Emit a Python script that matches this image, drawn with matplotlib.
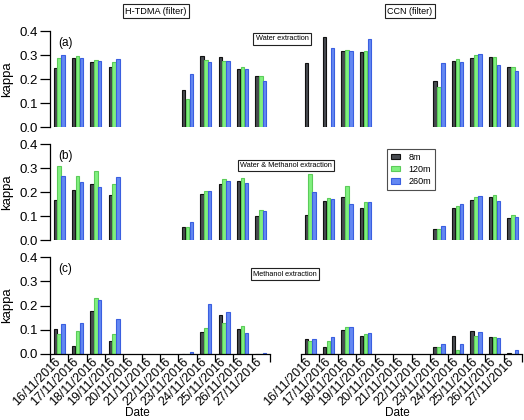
import numpy as np
import matplotlib
matplotlib.use("Agg")
import matplotlib.pyplot as plt
import matplotlib.transforms as mtransforms
from matplotlib.patches import Patch

plt.rcParams['font.family'] = ['Liberation Sans', 'DejaVu Sans']

nan = np.nan
dates = ["16/11/2016", "17/11/2016", "18/11/2016", "19/11/2016", "20/11/2016",
         "21/11/2016", "22/11/2016", "23/11/2016", "24/11/2016", "25/11/2016",
         "26/11/2016", "27/11/2016"]
heights = ["8m", "120m", "260m"]

# Panel (a) Water extraction
htdma_water_8 = [0.244, 0.286, 0.271, 0.251, nan, nan, nan, 0.156, 0.294, 0.292, 0.242, 0.211]
htdma_water_120 = [0.288, 0.297, 0.279, 0.271, nan, nan, nan, 0.117, 0.279, 0.274, 0.250, 0.212]
htdma_water_260 = [0.301, 0.288, 0.274, 0.282, nan, nan, nan, 0.219, 0.271, 0.275, 0.240, 0.190]
ccn_water_8 = [0.267, 0.375, 0.315, 0.313, nan, nan, nan, 0.193, 0.274, 0.289, 0.290, 0.249]
ccn_water_120 = [nan, nan, 0.321, 0.315, nan, nan, nan, 0.165, 0.282, 0.299, 0.292, 0.249]
ccn_water_260 = [nan, 0.328, 0.317, 0.365, nan, nan, nan, 0.267, 0.269, 0.304, 0.257, 0.235]

# Panel (b) Water & Methanol extraction
htdma_wm_8 = [0.168, 0.210, 0.235, 0.190, nan, nan, nan, 0.057, 0.193, 0.235, 0.246, 0.101]
htdma_wm_120 = [0.310, 0.268, 0.290, 0.235, nan, nan, nan, 0.054, 0.206, 0.254, 0.258, 0.126]
htdma_wm_260 = [0.268, 0.242, 0.222, 0.264, nan, nan, nan, 0.076, 0.204, 0.246, 0.239, 0.122]
ccn_wm_8 = [0.104, 0.165, 0.179, 0.135, nan, nan, nan, 0.049, 0.133, 0.169, 0.179, 0.092]
ccn_wm_120 = [0.276, 0.175, 0.226, 0.160, nan, nan, nan, 0.047, 0.143, 0.179, 0.190, 0.104]
ccn_wm_260 = [0.200, 0.174, 0.150, 0.160, nan, nan, nan, 0.058, 0.150, 0.185, 0.163, 0.097]

# Panel (c) Methanol extraction
htdma_meth_8 = [0.105, 0.033, 0.178, 0.052, nan, nan, nan, 0.002, 0.089, 0.162, 0.105, 0.002]
htdma_meth_120 = [0.084, 0.095, 0.230, 0.081, nan, nan, nan, 0.002, 0.108, 0.127, 0.116, 0.002]
htdma_meth_260 = [0.122, 0.127, 0.223, 0.145, nan, nan, nan, 0.007, 0.208, 0.173, 0.086, 0.003]
ccn_meth_8 = [0.062, 0.030, 0.100, 0.075, nan, nan, nan, 0.030, 0.075, 0.096, 0.070, 0.003]
ccn_meth_120 = [0.055, 0.055, 0.110, 0.081, nan, nan, nan, 0.030, 0.015, 0.075, 0.070, 0.002]
ccn_meth_260 = [0.062, 0.070, 0.110, 0.085, nan, nan, nan, 0.041, 0.041, 0.090, 0.066, 0.016]

panels = [
    ("(a)", "Water extraction", (htdma_water_8, htdma_water_120, htdma_water_260),
     (ccn_water_8, ccn_water_120, ccn_water_260)),
    ("(b)", "Water & Methanol extraction", (htdma_wm_8, htdma_wm_120, htdma_wm_260),
     (ccn_wm_8, ccn_wm_120, ccn_wm_260)),
    ("(c)", "Methanol extraction", (htdma_meth_8, htdma_meth_120, htdma_meth_260),
     (ccn_meth_8, ccn_meth_120, ccn_meth_260)),
]

fills = ["#474b50", "#80f07e", "#6488f2"]
edges = ["#111111", "#5ccc5a", "#3a5fe0"]

W, H = 524, 420
fig = plt.figure(figsize=(W / 100, H / 100), dpi=100)

def px_axes(x0, x1, y_top, y_bot):
    return fig.add_axes([x0 / W, 1 - y_bot / H, (x1 - x0) / W, (y_bot - y_top) / H])

rows = [(31, 127), (144.3, 240.3), (257, 354)]
n = len(dates)
centers = np.arange(n) + 0.5
bw = 0.19
offs = [-0.213, 0.0, 0.213]

for r, (lab, ext, left, right) in enumerate(panels):
    yt, yb = rows[r]
    axl = px_axes(50, 270, yt, yb)
    axr = px_axes(301, 522, yt, yb)
    for ax, series in ((axl, left), (axr, right)):
        for k in range(3):
            ax.bar(centers + offs[k], series[k], width=bw, color=fills[k],
                   edgecolor=edges[k], linewidth=0.8)
        ax.set_xlim(0, n)
        ax.set_ylim(0, 0.4)
        for s in ("top", "right"):
            ax.spines[s].set_visible(False)
        ax.patch.set_alpha(0)
        if r < 2:
            ax.spines["bottom"].set_visible(False)
            ax.set_xticks([])
        else:
            ax.spines["bottom"].set_linewidth(0.9)
            ax.set_xticks(np.arange(n + 1))
            ax.set_xticklabels([])
            ax.set_xticks(centers, minor=True)
            ax.set_xticklabels(dates, minor=True, rotation=45, ha="right",
                               va="top", fontsize=9)
            ax.tick_params(axis="x", which="major", direction="out", length=6, width=0.9)
            ax.tick_params(axis="x", which="minor", length=0, pad=1)
            off = mtransforms.ScaledTranslation(4 / 100, 0, fig.dpi_scale_trans)
            for t in ax.get_xticklabels(minor=True):
                t.set_transform(t.get_transform() + off)
    axl.spines["left"].set_linewidth(0.9)
    axl.set_yticks([0.0, 0.1, 0.2, 0.3, 0.4])
    axl.set_yticklabels(["0.0", "0.1", "0.2", "0.3", "0.4"], fontsize=9.5)
    axl.tick_params(axis="y", direction="out", length=7, width=0.9, pad=2)
    axr.spines["left"].set_visible(False)
    axr.set_yticks([])
    axl.set_ylabel("kappa", fontsize=9.5)
    axl.yaxis.set_label_coords(-37 / 220, 0.5)
    axl.text(8 / 220, 0.88, lab, transform=axl.transAxes, fontsize=8.5,
             ha="left", va="center")

box = dict(boxstyle="square,pad=0.3", facecolor="white", edgecolor="#222222", linewidth=0.8)
fig.text(156 / W, 1 - 11 / H, "H-TDMA (filter)", fontsize=6.6, ha="center", va="center", bbox=box)
fig.text(410 / W, 1 - 11 / H, "CCN (filter)", fontsize=6.5, ha="center", va="center", bbox=box)
ext_pos = [(282, 39), (286, 165.5), (285, 274)]
for (lab, ext, _, _), (x, y) in zip(panels, ext_pos):
    fig.text(x / W, 1 - y / H, ext, fontsize=5.3, ha="center", va="center", bbox=box)

handles = [Patch(facecolor=fills[k], edgecolor=edges[k], linewidth=0.8) for k in range(3)]
leg = fig.legend(handles, heights, loc="upper left", bbox_to_anchor=(387 / W, 1 - 149 / H),
                 fontsize=6.5, frameon=True, fancybox=False, edgecolor="#222222",
                 handlelength=1.0, handleheight=0.6, handletextpad=1.0,
                 labelspacing=0.35, borderpad=0.4, borderaxespad=0)
leg.get_frame().set_linewidth(0.8)

fig.text(137.5 / W, 1 - 413 / H, "Date", fontsize=8.5, ha="center", va="center")
fig.text(397 / W, 1 - 413 / H, "Date", fontsize=8.5, ha="center", va="center")

fig.savefig("out.png", dpi=100)
